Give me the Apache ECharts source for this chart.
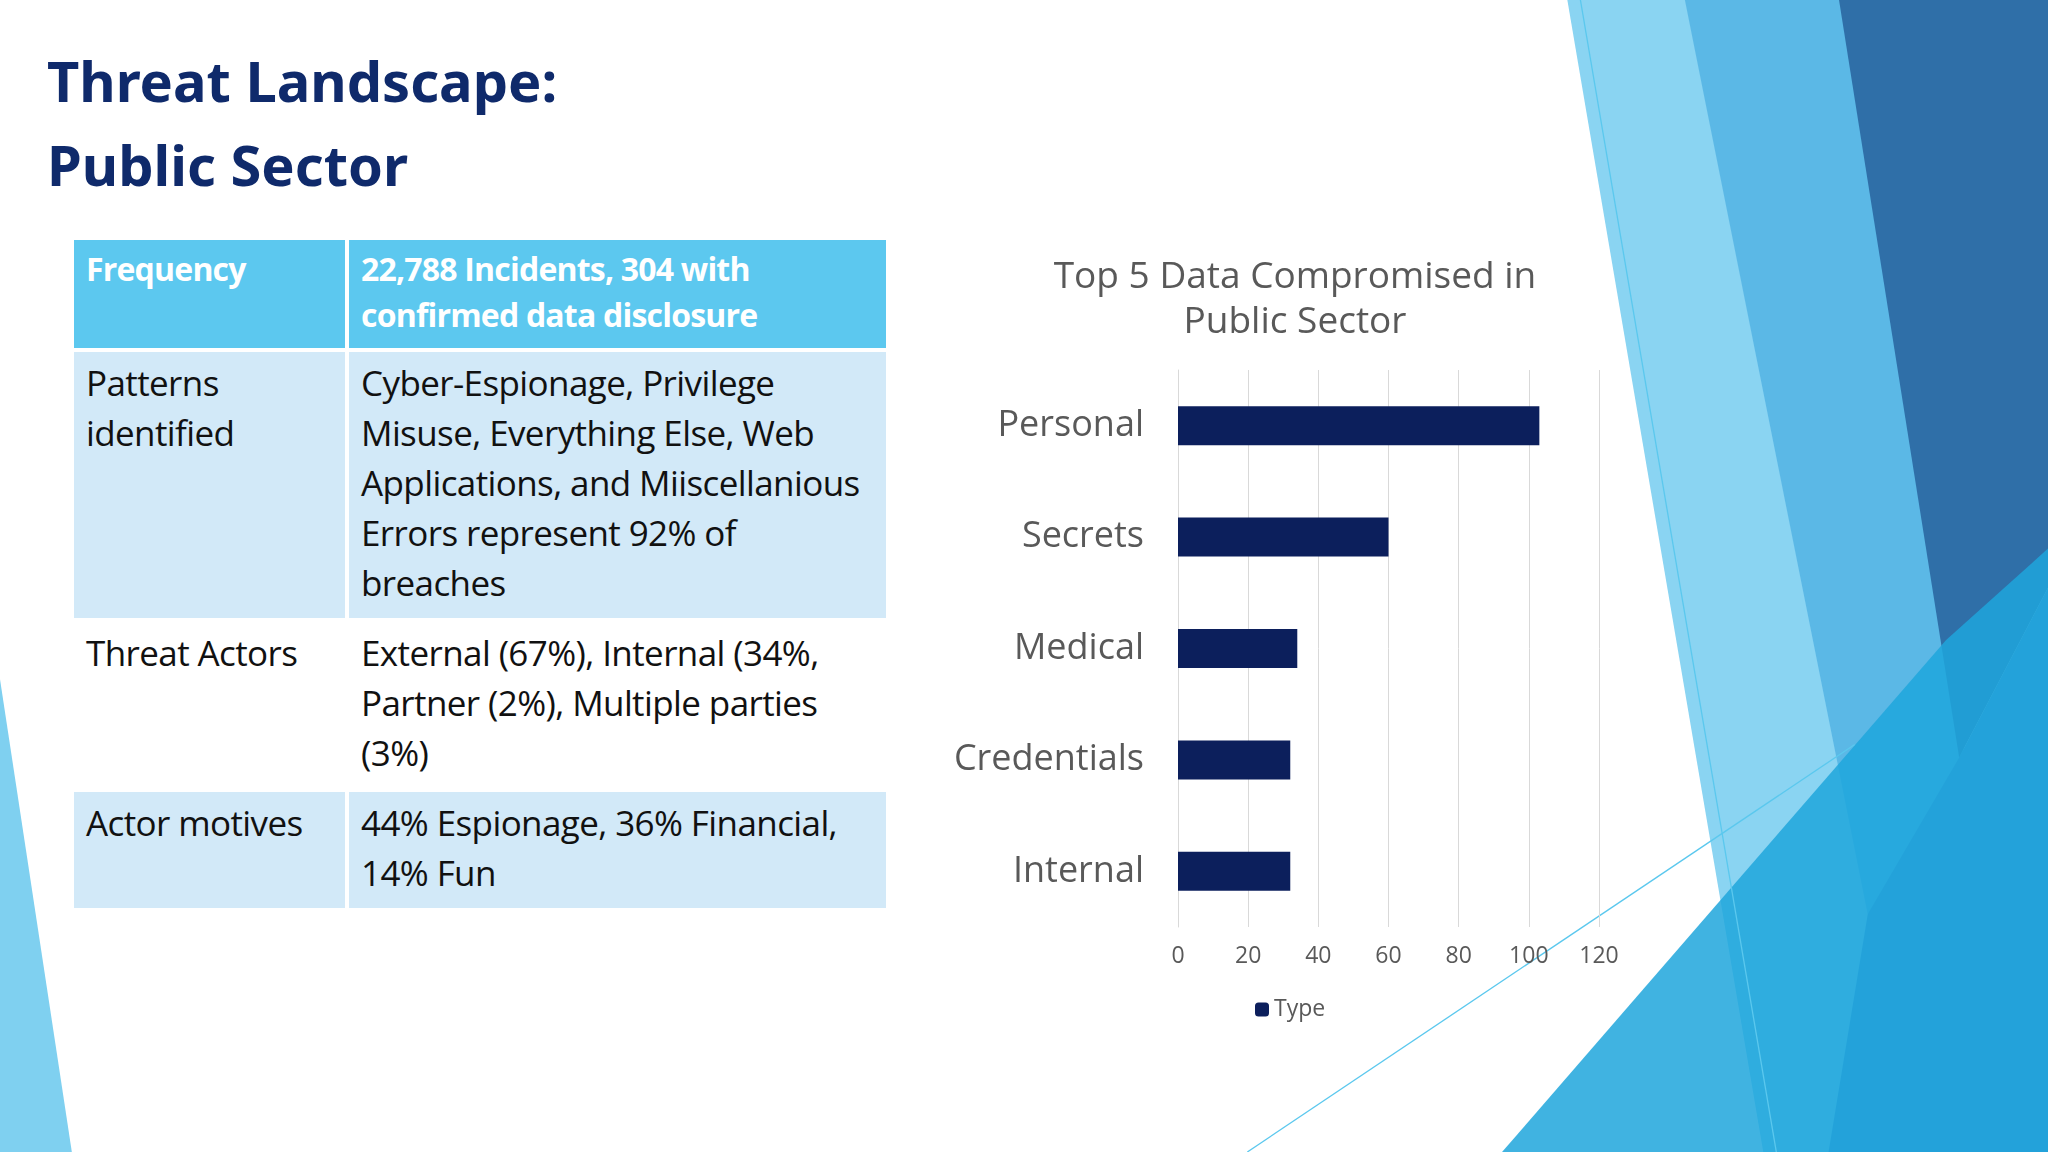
<!DOCTYPE html>
<html><head><meta charset="utf-8">
<script src="https://cdn.jsdelivr.net/npm/echarts@6/dist/echarts.min.js"></script>
<style>
body{margin:0;width:2048px;height:1152px;overflow:hidden;background:#fff;font-family:"Open Sans","Noto Sans",sans-serif;position:relative}
#bg{position:absolute;left:0;top:0;width:2048px;height:1152px}
#title{position:absolute;left:47px;top:38px;color:#0f2a6b;font-weight:bold;font-size:56px;line-height:84px;font-family:"Noto Sans",sans-serif}
table{position:absolute;left:70px;top:236px;width:820px;table-layout:fixed;border-collapse:collapse;font-size:35px;line-height:50px;color:#111;letter-spacing:-0.6px}
td{vertical-align:top;padding:6px 12px 10px 12px;border:4px solid #fff}
tr.h td{background:#5cc8ef;color:#fff;font-weight:bold;font-size:32px;line-height:46px;letter-spacing:-0.8px}
tr.a td{background:#d2e9f8}
tr.b td{background:#fff}
#echart{position:absolute;left:900px;top:220px;width:860px;height:900px}
</style></head><body>
<svg id="bg" viewBox="0 0 1568 882" preserveAspectRatio="none">
<polygon points="0,520 55,882 0,882" fill="#7fd0f0"/>
<polygon points="1200,0 1420,0 1540,882 1350,882" fill="#8ad4f2"/>
<polygon points="1290,0 1420,0 1510,620 1430,700" fill="#5bb8e6"/>
<polygon points="1408,0 1568,0 1568,450 1500,580" fill="#2f6fa8"/>
<polygon points="1500,580 1568,450 1568,882 1400,882 1430,700" fill="#3d8fd0"/>
<polygon points="1150,882 1490,490 1568,420 1568,882" fill="#1ea6dc" opacity="0.85"/>
<line x1="1210" y1="0" x2="1360" y2="882" stroke="#5bc8ee" stroke-width="1"/>
<line x1="955" y1="882" x2="1420" y2="570" stroke="#5bc8ee" stroke-width="1"/>
</svg>
<div id="title">Threat Landscape:<br>Public Sector</div>
<table>
<colgroup><col style="width:275px"><col></colgroup>
<tr class="h"><td>Frequency</td><td>22,788 Incidents, 304 with confirmed data disclosure</td></tr>
<tr class="a"><td>Patterns identified</td><td>Cyber-Espionage, Privilege Misuse, Everything Else, Web Applications, and Miiscellanious Errors represent 92% of breaches</td></tr>
<tr class="b"><td>Threat Actors</td><td>External (67%), Internal (34%, Partner (2%), Multiple parties (3%)</td></tr>
<tr class="a"><td>Actor motives</td><td>44% Espionage, 36% Financial, 14% Fun</td></tr>
</table>
<div id="echart"></div>
<script>
var categories = ['Personal', 'Secrets', 'Medical', 'Credentials', 'Internal'];
var values = [103, 60, 34, 32, 32];
var seriesName = 'Type';

var myChart = echarts.init(document.getElementById('echart'));
var option = {
    textStyle: {fontFamily: 'Open Sans'},
    title: {
        text: 'Top 5 Data Compromised in\nPublic Sector',
        left: 390, top: 30, textAlign: 'center',
        textStyle: {color: '#595959', fontSize: 37, fontWeight: 'normal', lineHeight: 45, fontFamily: 'Open Sans'}
    },
    legend: {
        data: [seriesName], left: 350, top: 773, itemWidth: 14, itemHeight: 14,
        textStyle: {color: '#595959', fontSize: 23, fontFamily: 'Open Sans'}
    },
    grid: {left: 278, right: 161, top: 150, bottom: 193},
    xAxis: {
        type: 'value', min: 0, max: 120, interval: 20,
        axisLine: {show: false}, axisTick: {show: false},
        splitLine: {lineStyle: {color: '#d9d9d9'}},
        axisLabel: {color: '#595959', fontSize: 23, margin: 18, fontFamily: 'Open Sans'}
    },
    yAxis: {
        type: 'category', inverse: true, data: categories,
        axisLine: {lineStyle: {color: '#d9d9d9'}}, axisTick: {show: false},
        axisLabel: {color: '#595959', fontSize: 36, margin: 34, fontFamily: 'Open Sans'}
    },
    series: [{
        name: seriesName, type: 'bar', data: values, barWidth: 39,
        itemStyle: {color: '#0c1f5c'}
    }]
};
myChart.setOption(option);
</script>
</body></html>
